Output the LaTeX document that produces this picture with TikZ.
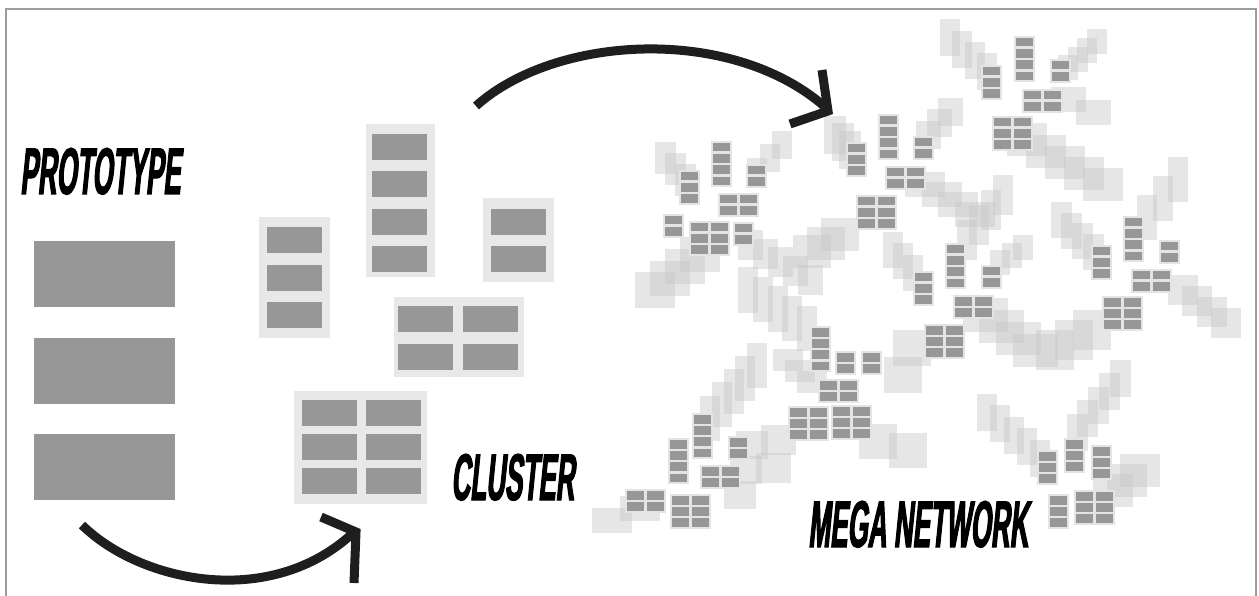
\documentclass[tikz,border=0pt]{standalone}
\usepackage{fontspec}
\setmainfont{Liberation Sans}
\newfontfamily\lblfont[FakeStretch=0.395,FakeBold=1.6,FakeSlant=0.1]{Liberation Sans Bold}
\usepackage{graphicx}
\definecolor{boxg}{HTML}{979797}
\definecolor{bgg}{HTML}{E8E8E8}
\definecolor{mbgc}{HTML}{E4E4E4}
\definecolor{arrc}{HTML}{1E1E1E}
\definecolor{framec}{HTML}{9C9C9C}
\definecolor{trailc}{HTML}{C8C8C8}
\tikzset{
  boxfill/.style={fill=boxg},
  bgfill/.style={fill=bgg},
  mbgfill/.style={fill=mbgc},
  trailsq/.style={fill=trailc, fill opacity=0.45},
  bigarrow/.style={draw=arrc, line width=9pt, line cap=butt},
  chevron/.style={draw=arrc, line width=9pt, line cap=butt, line join=miter},
  lbl/.style={inner sep=0pt, anchor=base west, font=\fontsize{66}{66}\selectfont\lblfont}
}
% mini cluster: x y (top-left of first box) cols rows
\newcommand\mg[4]{%
  \fill[mbgfill] ({#1-2},{#2-2}) rectangle ({#1+20*#3-1},{#2+11.2*(#4-1)+10.5});
  \foreach \ci in {1,...,#3}{\foreach \ri in {1,...,#4}{%
    \fill[boxfill] ({#1+20*(\ci-1)},{#2+11.2*(\ri-1)}) rectangle ++(17,8.5);}}}
% trail: x1 y1 x2 y2 count w h
\newcommand\trail[7]{%
  \foreach \k in {1,...,#5}{%
    \pgfmathsetmacro\tcx{#1+(#3-#1)*(\k-1)/(#5-1)}%
    \pgfmathsetmacro\tcy{#2+(#4-#2)*(\k-1)/(#5-1)}%
    \fill[trailsq] (\tcx-#6/2,\tcy-#7/2) rectangle (\tcx+#6/2,\tcy+#7/2);}}
\begin{document}
\begin{tikzpicture}[x=1pt,y=-1pt]
\useasboundingbox (0,0) rectangle (1259,596);
\fill[white] (0,0) rectangle (1259,596);
% frame
\draw[framec, line width=2.5pt] (6,600) -- (6,9) -- (1256,9) -- (1256,600);

% ---------- PROTOTYPE ----------
\node[lbl] (tproto) at (20,194) {PROTOTYPE};
\fill[boxfill] (34,241) rectangle (175,307);
\fill[boxfill] (34,338) rectangle (175,404);
\fill[boxfill] (34,434) rectangle (175,500);

% ---------- CLUSTER ----------
\fill[bgfill] (259,217) rectangle (330,338);
\foreach \yy in {227,265,302} \fill[boxfill] (267,\yy) rectangle ++(55,26);
\fill[bgfill] (366,124) rectangle (435,277);
\foreach \yy in {134,171,209,246} \fill[boxfill] (372,\yy) rectangle ++(55,26);
\fill[bgfill] (483,198) rectangle (554,282);
\foreach \yy in {209,246} \fill[boxfill] (491,\yy) rectangle ++(55,26);
\fill[bgfill] (394,297) rectangle (524,377);
\foreach \xx in {398,463} \foreach \yy in {306,344} \fill[boxfill] (\xx,\yy) rectangle ++(55,26);
\fill[bgfill] (294,391) rectangle (427,504);
\foreach \xx in {302,366} \foreach \yy in {400,434,468} \fill[boxfill] (\xx,\yy) rectangle ++(55,26);
\node[lbl] (tcluster) at (451,500) {CLUSTER};

% ---------- MEGA NETWORK trails ----------
% hub 1
\trail{665}{158}{685}{180}{3}{21}{32}
\trail{782}{145}{757}{172}{3}{20}{28}
\trail{700}{255}{655}{290}{4}{40}{35}
\trail{750}{245}{810}{280}{5}{25}{30}
% hub 2
\trail{835}{135}{850}{150}{3}{22}{38}
\trail{950}{112}{928}{135}{3}{25}{28}
\trail{925}{185}{975}{215}{4}{40}{25}
\trail{840}{235}{812}{252}{3}{38}{33}
% hub 3
\trail{950}{38}{987}{72}{4}{20}{37}
\trail{1097}{42}{1068}{68}{4}{20}{25}
\trail{1068}{100}{1093}{113}{2}{35}{25}
\trail{1027}{140}{1103}{185}{5}{40}{33}
% hub 4
\trail{1061}{220}{1093}{252}{4}{21}{36}
\trail{1178}{180}{1147}{218}{3}{20}{45}
\trail{1183}{290}{1226}{323}{4}{30}{30}
\trail{1092}{330}{1055}{350}{3}{38}{40}
% hub 5
\trail{893}{250}{913}{273}{3}{20}{36}
\trail{1003}{195}{967}{240}{4}{20}{40}
\trail{1000}{263}{1023}{248}{3}{20}{25}
\trail{985}{315}{1035}{350}{4}{45}{33}
\trail{912}{348}{903}{375}{2}{38}{36}
% hub 6
\trail{748}{290}{807}{328}{5}{20}{45}
\trail{788}{360}{812}{382}{3}{30}{22}
\trail{878}{441}{908}{450}{2}{38}{35}
\trail{778}{440}{773}{468}{2}{35}{30}
% hub 7
\trail{757}{365}{710}{418}{5}{20}{45}
\trail{752}{445}{740}{495}{3}{32}{28}
\trail{612}{520}{640}{508}{2}{40}{25}
% hub 8
\trail{987}{412}{1040}{458}{5}{20}{37}
\trail{1120}{378}{1077}{432}{5}{21}{37}
\trail{1140}{470}{1113}{490}{3}{40}{33}

% ---------- MEGA NETWORK mini clusters ----------
% hub 1
\mg{713}{143}{1}{4} \mg{681}{172}{1}{3} \mg{748}{166}{1}{2}
\mg{720}{195}{2}{2} \mg{665}{216}{1}{2} \mg{691}{223}{2}{3} \mg{735}{224}{1}{2}
% hub 2
\mg{880}{116}{1}{4} \mg{848}{144}{1}{3} \mg{915}{138}{1}{2}
\mg{887}{168}{2}{2} \mg{858}{197}{2}{3}
% hub 3
\mg{1016}{38}{1}{4} \mg{983}{67}{1}{3} \mg{1052}{61}{1}{2}
\mg{1024}{91}{2}{2} \mg{994}{118}{2}{3}
% hub 4
\mg{1125}{218}{1}{4} \mg{1093}{247}{1}{3} \mg{1161}{242}{1}{2}
\mg{1133}{271}{2}{2} \mg{1104}{298}{2}{3}
% hub 5
\mg{947}{245}{1}{4} \mg{915}{273}{1}{3} \mg{983}{267}{1}{2}
\mg{955}{297}{2}{2} \mg{926}{326}{2}{3}
% hub 6
\mg{812}{328}{1}{4} \mg{837}{353}{1}{2} \mg{863}{353}{1}{2}
\mg{820}{381}{2}{2} \mg{790}{408}{2}{3} \mg{833}{407}{2}{3}
% hub 7
\mg{694}{415}{1}{4} \mg{670}{440}{1}{4} \mg{730}{438}{1}{2}
\mg{702}{467}{2}{2} \mg{627}{491}{2}{2} \mg{672}{496}{2}{3}
% hub 8
\mg{1039}{452}{1}{3} \mg{1066}{440}{1}{3} \mg{1093}{447}{1}{3}
\mg{1050}{496}{1}{3} \mg{1076}{492}{2}{3}

\node[lbl] (tmega) at (808,547) {MEGA NETWORK};

% ---------- arrows ----------
\coordinate (a1s) at (82,525);
\coordinate (a1e) at (353,533);
\coordinate (a1u) at (321,517);
\coordinate (a1d) at (354,583);
\draw[bigarrow] (a1s) .. controls (140,582) and (270,610) .. (a1e);
\draw[chevron] (a1u) -- (356,532) -- (a1d);

\coordinate (a2s) at (476,106);
\coordinate (a2e) at (824,106);
\coordinate (a2u) at (822,70);
\coordinate (a2l) at (790,124);
\draw[bigarrow] (a2s) .. controls (555,35) and (730,25) .. (a2e);
\draw[chevron] (a2u) -- (828,111) -- (a2l);
\end{tikzpicture}
\end{document}
